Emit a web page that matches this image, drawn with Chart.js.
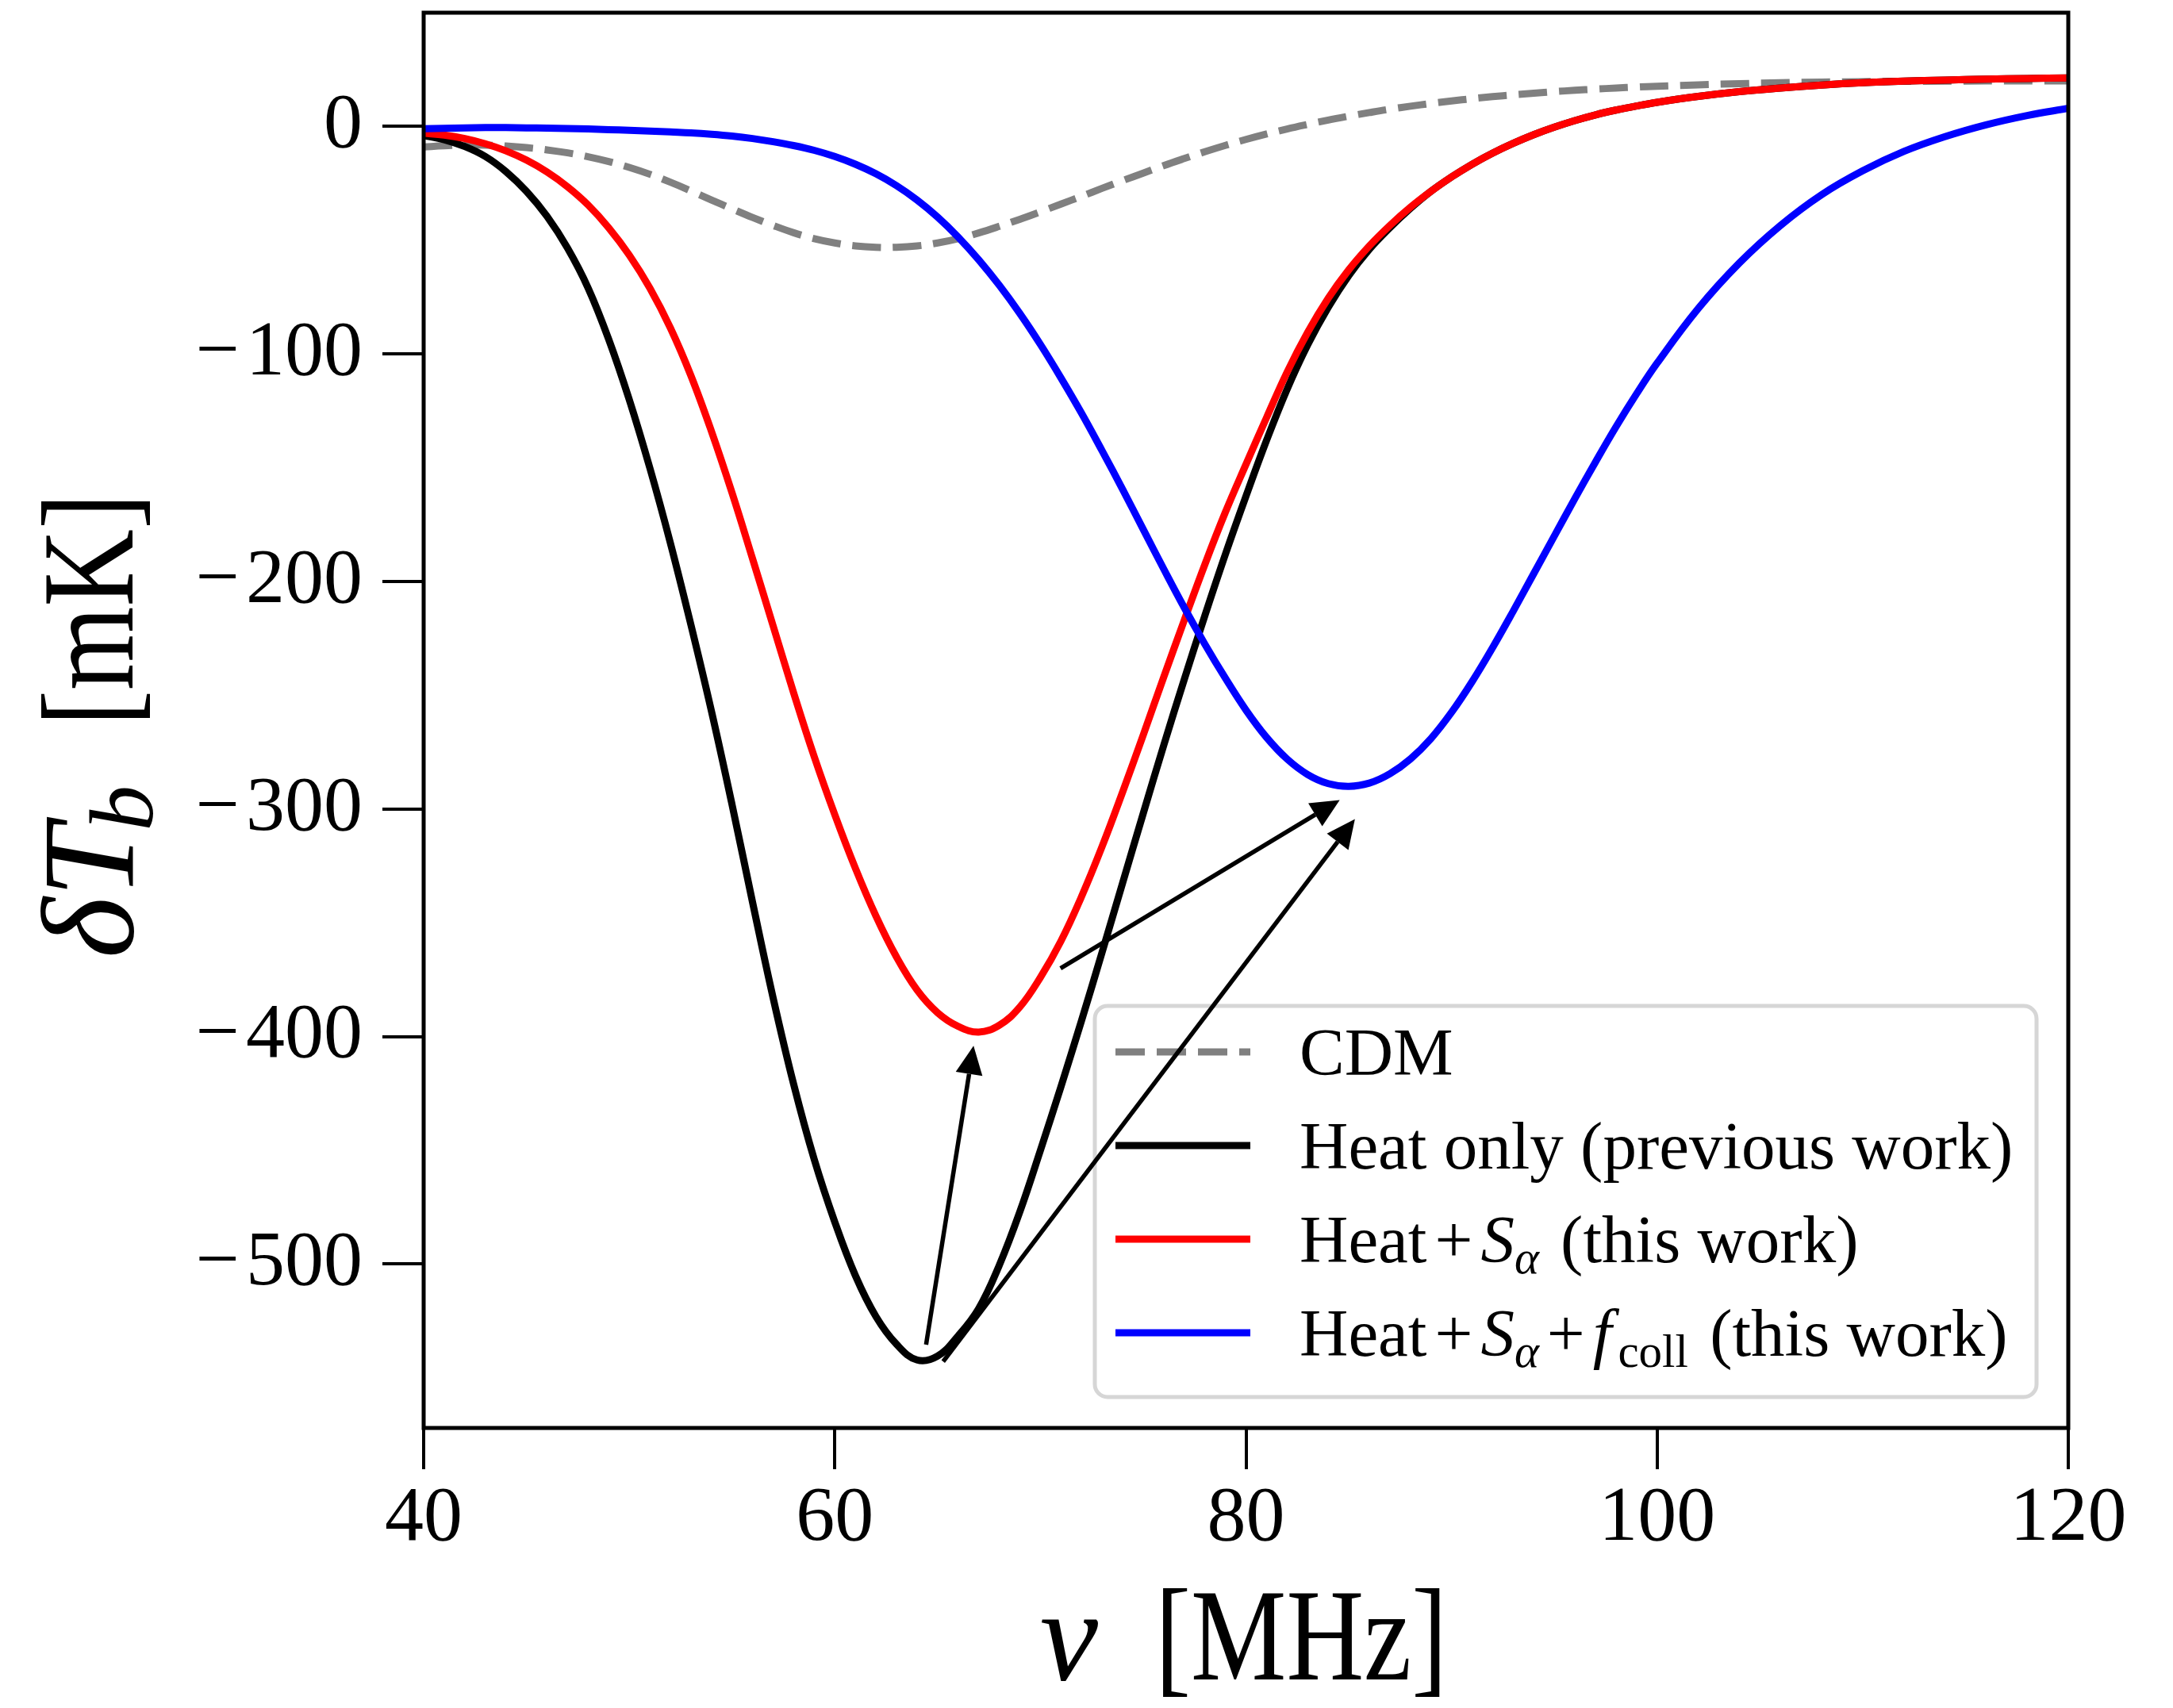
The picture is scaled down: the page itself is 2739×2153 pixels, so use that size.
<!DOCTYPE html>
<html>
<head>
<meta charset="utf-8">
<script src="https://cdn.jsdelivr.net/npm/chart.js@4.4.1/dist/chart.umd.min.js"></script>
<style>
html,body{margin:0;padding:0;background:#ffffff;}
#wrap{width:2739px;height:2153px;position:relative;}
canvas{display:block;}
</style>
</head>
<body>
<div id="wrap"><canvas id="c" width="2739" height="2153"></canvas></div>
<script>
// ---------------- data ----------------
const nu = [40,41,42,43,44,45,46,47,48,49,50,51,52,53,54,55,56,57,58,59,60,61,62,63,64,65,66,67,68,69,70,
  71,72,73,74,75,76,77,78,79,80,81,82,83,84,85,86,87,88,89,90,91,92,93,94,95,96,97,98,99,100,
  102,104,106,108,110,112,114,116,118,120];

const cdm = [-9,-8.5,-8.2,-8.2,-8.6,-9.3,-10.3,-11.6,-13.3,-15.4,-18,-21,-24.5,-28.3,-32.3,-36.2,-40,-43.5,-46.7,-49.3,-51.2,
  -52.5,-53.1,-53.1,-52.5,-51.2,-49.3,-46.8,-43.9,-40.8,-37.5,-34.1,-30.7,-27.2,-23.8,-20.5,-17.2,-14.1,-11.1,-8.3,-5.7,
  -3.3,-1.1,0.9,2.8,4.5,6.1,7.6,8.9,10.1,11.2,12.2,13.1,13.9,14.6,15.3,15.9,16.4,16.9,17.3,17.7,
  18.3,18.8,19.2,19.5,19.7,19.8,19.9,20,20,20];

const heatOnly = [-4,-5.8,-8.8,-13.2,-19.8,-28.5,-39.5,-53.5,-71,-93.5,-120,-150,-183,-219,-257,-298,-341,-383,-421,-454,-481.5,
  -505,-523,-535.2,-542.1,-540.4,-531.5,-519.5,-500.5,-477,-450,-422,-393,-363,-332.5,-302,-272,-243,-215,-188,-162.5,
  -138,-115.5,-96,-79.5,-65.5,-54,-44.5,-36,-28.5,-22.2,-16.6,-11.7,-7.4,-3.6,-0.3,2.6,5.1,7.2,9,10.6,
  13.2,15.3,16.9,18.2,19.2,19.9,20.4,20.8,21.1,21.3];

const heatSa = [-3,-3.8,-5.3,-7.6,-10.7,-14.8,-20,-26.5,-34.5,-44.5,-56.5,-71,-88.5,-109.5,-134,-161,-190,-219.5,-249,-277,-302.5,
  -326,-347,-365,-379.5,-389.5,-395.5,-398,-395,-387,-374,-358,-338.5,-316.5,-292.5,-267.5,-242,-217,-192.5,-169.5,-148.5,
  -128,-108,-90.5,-75.5,-63,-52.5,-43.5,-35.5,-28.5,-22.2,-16.6,-11.7,-7.4,-3.6,-0.3,2.6,5.1,7.2,9,10.6,
  13.2,15.3,16.9,18.2,19.2,19.9,20.4,20.8,21.1,21.3];

const heatSaFcoll = [-1,-0.8,-0.6,-0.5,-0.5,-0.6,-0.7,-0.9,-1.1,-1.4,-1.7,-2,-2.4,-2.8,-3.4,-4.2,-5.3,-6.7,-8.4,-10.5,-13.2,
  -16.6,-20.8,-26,-32.3,-39.8,-48.6,-58.6,-69.8,-82.2,-95.8,-110.5,-126,-142.5,-159.5,-177,-194.5,-211.5,-227.5,-242.5,-256.5,
  -268.5,-278,-284.8,-288.8,-290,-288.6,-284.5,-278,-269,-257.5,-244,-229,-213,-196.5,-180,-163.5,-147.5,-132,-117.5,-104,
  -80,-60,-43.5,-30,-19.5,-11,-4.5,0.7,4.8,8];

const xTicks = [40,60,80,100,120];
const yTicks = [-500,-400,-300,-200,-100,0];
const xRange = [40,120];
const yRange = [-572,50];

const seriesNames = ['CDM','Heat only (previous work)','Heat+Sα (this work)','Heat+Sα+fcoll (this work)'];
const seriesColors = ['#808080','#000000','#ff0000','#0000ff'];

// annotation arrows (data coordinates: [from, to])
const arrowFrom = [[64.44,-535.4],[70.98,-370],[65.27,-542.8]];
const arrowTo   = [[66.75,-404],[84.56,-296],[85.3,-304.4]];

// ---------------- rendering ----------------
const SERIF = '"Liberation Serif","Times New Roman",serif';

function fontStr(p){ return (p.it ? 'italic ' : '') + p.size + 'px ' + SERIF; }

// parts: {t,size,it,dy,sx} or {gap}
function drawRich(ctx, parts, x, y, align, sxDefault){
  sxDefault = sxDefault || 1;
  let total = 0;
  const items = parts.map(p => {
    const sx = p.sx !== undefined ? p.sx : sxDefault;
    let w;
    if (p.gap !== undefined) w = p.gap;
    else { ctx.font = fontStr(p); w = ctx.measureText(p.t).width * sx; }
    total += w; return {w, sx};
  });
  let cx = align === 'center' ? x - total/2 : (align === 'right' ? x - total : x);
  ctx.save();
  ctx.textAlign = 'left'; ctx.textBaseline = 'alphabetic'; ctx.fillStyle = '#000';
  parts.forEach((p,i) => {
    if (p.t) {
      ctx.save();
      ctx.translate(cx, y + (p.dy || 0));
      ctx.scale(items[i].sx, 1);
      ctx.font = fontStr(p);
      ctx.fillText(p.t, 0, 0);
      ctx.restore();
    }
    cx += items[i].w;
  });
  ctx.restore();
  return total;
}

function drawArrow(ctx, x1, y1, x2, y2){
  const L = 36, W = 34;
  const a = Math.atan2(y2-y1, x2-x1);
  const bx = x2 - L*Math.cos(a), by = y2 - L*Math.sin(a);
  ctx.save();
  ctx.strokeStyle = '#000'; ctx.fillStyle = '#000'; ctx.lineWidth = 5.5; ctx.lineCap = 'butt';
  ctx.beginPath(); ctx.moveTo(x1,y1); ctx.lineTo(bx,by); ctx.stroke();
  ctx.beginPath();
  ctx.moveTo(x2,y2);
  ctx.lineTo(bx + W/2*Math.sin(a), by - W/2*Math.cos(a));
  ctx.lineTo(bx - W/2*Math.sin(a), by + W/2*Math.cos(a));
  ctx.closePath(); ctx.fill();
  ctx.restore();
}

function legendParts(i, size){
  const sub = Math.round(size*0.7), dy = Math.round(size*0.16), g = 10;
  if (i === 0) return [{t:'CDM', size}];
  if (i === 1) return [{t:'Heat only (previous work)', size}];
  if (i === 2) return [{t:'Heat', size},{gap:g},{t:'+', size},{gap:g},{t:'S', it:true, size},{t:'α', it:true, size:sub, dy},
                       {gap:6},{t:' (this work)', size}];
  return [{t:'Heat', size},{gap:g},{t:'+', size},{gap:g},{t:'S', it:true, size},{t:'α', it:true, size:sub, dy},
          {gap:g},{t:'+', size},{gap:g},{t:'f', it:true, size},{gap:8},{t:'coll', size:sub, dy},{gap:6},{t:' (this work)', size}];
}

const decorPlugin = {
  id: 'decor',
  afterDraw(chart){
    const ctx = chart.ctx;
    const ca = chart.chartArea;
    const xs = chart.scales.x, ys = chart.scales.y;
    // frame
    ctx.save();
    ctx.strokeStyle = '#000'; ctx.lineWidth = 5;
    ctx.strokeRect(ca.left, ca.top, ca.right - ca.left, ca.bottom - ca.top);
    ctx.restore();

    // legend
    const lx = 1380, ly = 1268, lw = 1187, lh = 493, r = 16;
    ctx.save();
    ctx.beginPath();
    ctx.roundRect(lx, ly, lw, lh, r);
    ctx.fillStyle = 'rgba(255,255,255,0.8)'; ctx.fill();
    ctx.strokeStyle = '#d6d6d6'; ctx.lineWidth = 5; ctx.stroke();
    ctx.restore();
    const rowBase = [1355, 1473, 1591, 1709];
    [0,1,2,3].forEach((si, k) => {
      const yl = rowBase[k] - 29;
      ctx.save();
      ctx.strokeStyle = seriesColors[si]; ctx.lineWidth = 9; ctx.lineCap = 'butt';
      if (si === 0) ctx.setLineDash([37,15]);
      ctx.beginPath(); ctx.moveTo(1406, yl); ctx.lineTo(1576, yl); ctx.stroke();
      ctx.restore();
      drawRich(ctx, legendParts(si, 85), 1638, rowBase[k], 'left', 1);
    });

    // arrows
    arrowFrom.forEach((f, i) => {
      const t = arrowTo[i];
      drawArrow(ctx, xs.getPixelForValue(f[0]), ys.getPixelForValue(f[1]),
                     xs.getPixelForValue(t[0]), ys.getPixelForValue(t[1]));
    });

    // axis titles
    const tsz = 165, sx = 0.82;
    drawRich(ctx, [{t:'ν', it:true, size:tsz, sx:1},{gap:72},{t:'[MHz]', size:tsz}],
             (ca.left + ca.right)/2 - 3, 2117, 'center', sx);
    ctx.save();
    ctx.translate(167, (ca.top + ca.bottom)/2 + 7);
    ctx.rotate(-Math.PI/2);
    drawRich(ctx, [{t:'δ', it:true, size:tsz, sx:1},{t:'T', it:true, size:tsz, sx:1},{gap:-8},
                   {t:'b', it:true, size:115, dy:25, sx:1},{gap:75},{t:'[mK]', size:tsz}], 0, 0, 'center', sx);
    ctx.restore();
  }
};

const mk = arr => nu.map((x,i) => ({x, y: arr[i]}));
const fmt = v => (v < 0 ? '\u2212\u200A' + Math.abs(v) : String(v));

const tickFont = {family: SERIF, size: 98};

new Chart(document.getElementById('c').getContext('2d'), {
  type: 'line',
  data: {
    datasets: [
      {label: seriesNames[0], data: mk(cdm), borderColor: seriesColors[0], borderDash: [36,15], borderWidth: 9, order: 4},
      {label: seriesNames[1], data: mk(heatOnly), borderColor: seriesColors[1], borderWidth: 9, order: 3},
      {label: seriesNames[2], data: mk(heatSa), borderColor: seriesColors[2], borderWidth: 9, order: 2},
      {label: seriesNames[3], data: mk(heatSaFcoll), borderColor: seriesColors[3], borderWidth: 9, order: 1}
    ]
  },
  options: {
    responsive: false,
    animation: false,
    devicePixelRatio: 1,
    layout: {padding: {top: 16, right: 132, left: 0, bottom: 0}},
    plugins: {legend: {display: false}, tooltip: {enabled: false}},
    elements: {
      point: {radius: 0, hoverRadius: 0},
      line: {cubicInterpolationMode: 'default', tension: 0.4, fill: false, borderCapStyle: 'butt', borderJoinStyle: 'round'}
    },
    scales: {
      x: {
        type: 'linear', min: xRange[0], max: xRange[1],
        afterBuildTicks: s => { s.ticks = xTicks.map(v => ({value: v})); },
        ticks: {font: tickFont, color: '#000', padding: 4, maxRotation: 0, autoSkip: false, callback: v => fmt(v)},
        grid: {drawOnChartArea: false, drawTicks: true, color: '#000', lineWidth: 4, tickLength: 52},
        border: {display: false},
        afterFit: s => { s.height = 353; s.paddingLeft = 0; s.paddingRight = 0; }
      },
      y: {
        type: 'linear', min: yRange[0], max: yRange[1],
        afterBuildTicks: s => { s.ticks = yTicks.map(v => ({value: v})); },
        ticks: {font: tickFont, color: '#000', padding: 25, autoSkip: false, callback: v => fmt(v)},
        grid: {drawOnChartArea: false, drawTicks: true, color: '#000', lineWidth: 4, tickLength: 52},
        border: {display: false},
        afterFit: s => { s.width = 534; s.paddingTop = 0; s.paddingBottom = 0; }
      }
    }
  },
  plugins: [decorPlugin]
});
</script>
</body>
</html>
